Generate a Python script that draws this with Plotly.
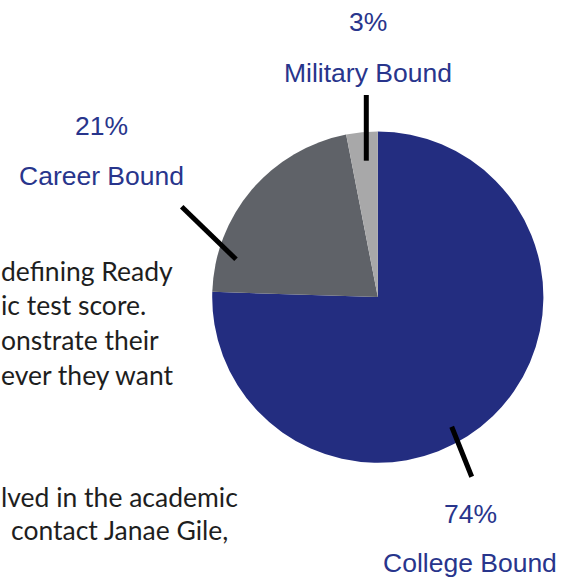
import plotly.graph_objects as go

# ---- data ----
categories = ["College Bound", "Career Bound", "Military Bound"]
values = [74, 21, 3]
slice_colors = ["#232D80", "#5F6268", "#A8A8A9"]

# background document text fragments (visible, clipped at the left edge)
doc_lines_1 = ["defining Ready", "ic test score.", "onstrate their", "ever they want"]
doc_lines_2 = ["lved in the academic", "contact Janae Gile,"]

# ---- layout constants (pixels in a 573x577 page) ----
W, H = 573, 577
CX, CY, R = 377.8, 297.1, 165.6


def px(x, y):
    return x / W, 1 - y / H


label_pos = {  # centre x, y of percentage line, y of name line
    "College Bound": (470, 514, 563),
    "Career Bound": (101, 126, 176),
    "Military Bound": (368, 22, 73),
}
leader_lines = {
    "College Bound": ((451.7, 426.7), (471.7, 476.7)),
    "Career Bound": ((181.7, 206.7), (236.0, 259.3)),
    "Military Bound": ((366.3, 95.0), (366.3, 160.7)),
}
doc_x_1 = [0.3, 0.3, 0.3, 0.3]
doc_base_1 = [281, 315.5, 350.5, 385]
doc_x_2 = [0.3, 10]
doc_base_2 = [507, 540.5]

label_color = "#28358C"
label_font = dict(family="Liberation Sans", size=26.5, color=label_color)
doc_font = dict(family="Lato", size=26.5, color="#1E1E1E")

fig = go.Figure()
fig.add_trace(go.Pie(
    labels=categories,
    values=values,
    marker=dict(colors=slice_colors, line=dict(width=0)),
    sort=False,
    direction="clockwise",
    rotation=0,
    textinfo="none",
    hoverinfo="label+percent",
    domain=dict(x=[(CX - R) / W, (CX + R) / W], y=[1 - (CY + R) / H, 1 - (CY - R) / H]),
))

annotations = []
shapes = []
for cat, val in zip(categories, values):
    x, yp, yn = label_pos[cat]
    for txt, yy in ((f"{val}%", yp), (cat, yn)):
        ax, ay = px(x, yy)
        annotations.append(dict(text=txt, x=ax, y=ay, xref="paper", yref="paper",
                                xanchor="center", yanchor="middle", showarrow=False,
                                font=label_font))
    (x0, y0), (x1, y1) = leader_lines[cat]
    a0, b0 = px(x0, y0)
    a1, b1 = px(x1, y1)
    shapes.append(dict(type="line", xref="paper", yref="paper", x0=a0, y0=b0, x1=a1, y1=b1,
                       line=dict(color="black", width=5)))

for lines, xs, bases in ((doc_lines_1, doc_x_1, doc_base_1), (doc_lines_2, doc_x_2, doc_base_2)):
    for txt, x, b in zip(lines, xs, bases):
        ax, ay = px(x, b - 10.2)
        annotations.append(dict(text=txt, x=ax, y=ay, xref="paper", yref="paper",
                                xanchor="left", yanchor="middle", showarrow=False,
                                borderpad=0, font=doc_font))

fig.update_layout(
    width=W, height=H,
    margin=dict(l=0, r=0, t=0, b=0),
    paper_bgcolor="white", plot_bgcolor="white",
    showlegend=False,
    annotations=annotations,
    shapes=shapes,
)

fig.write_html("out.html")
